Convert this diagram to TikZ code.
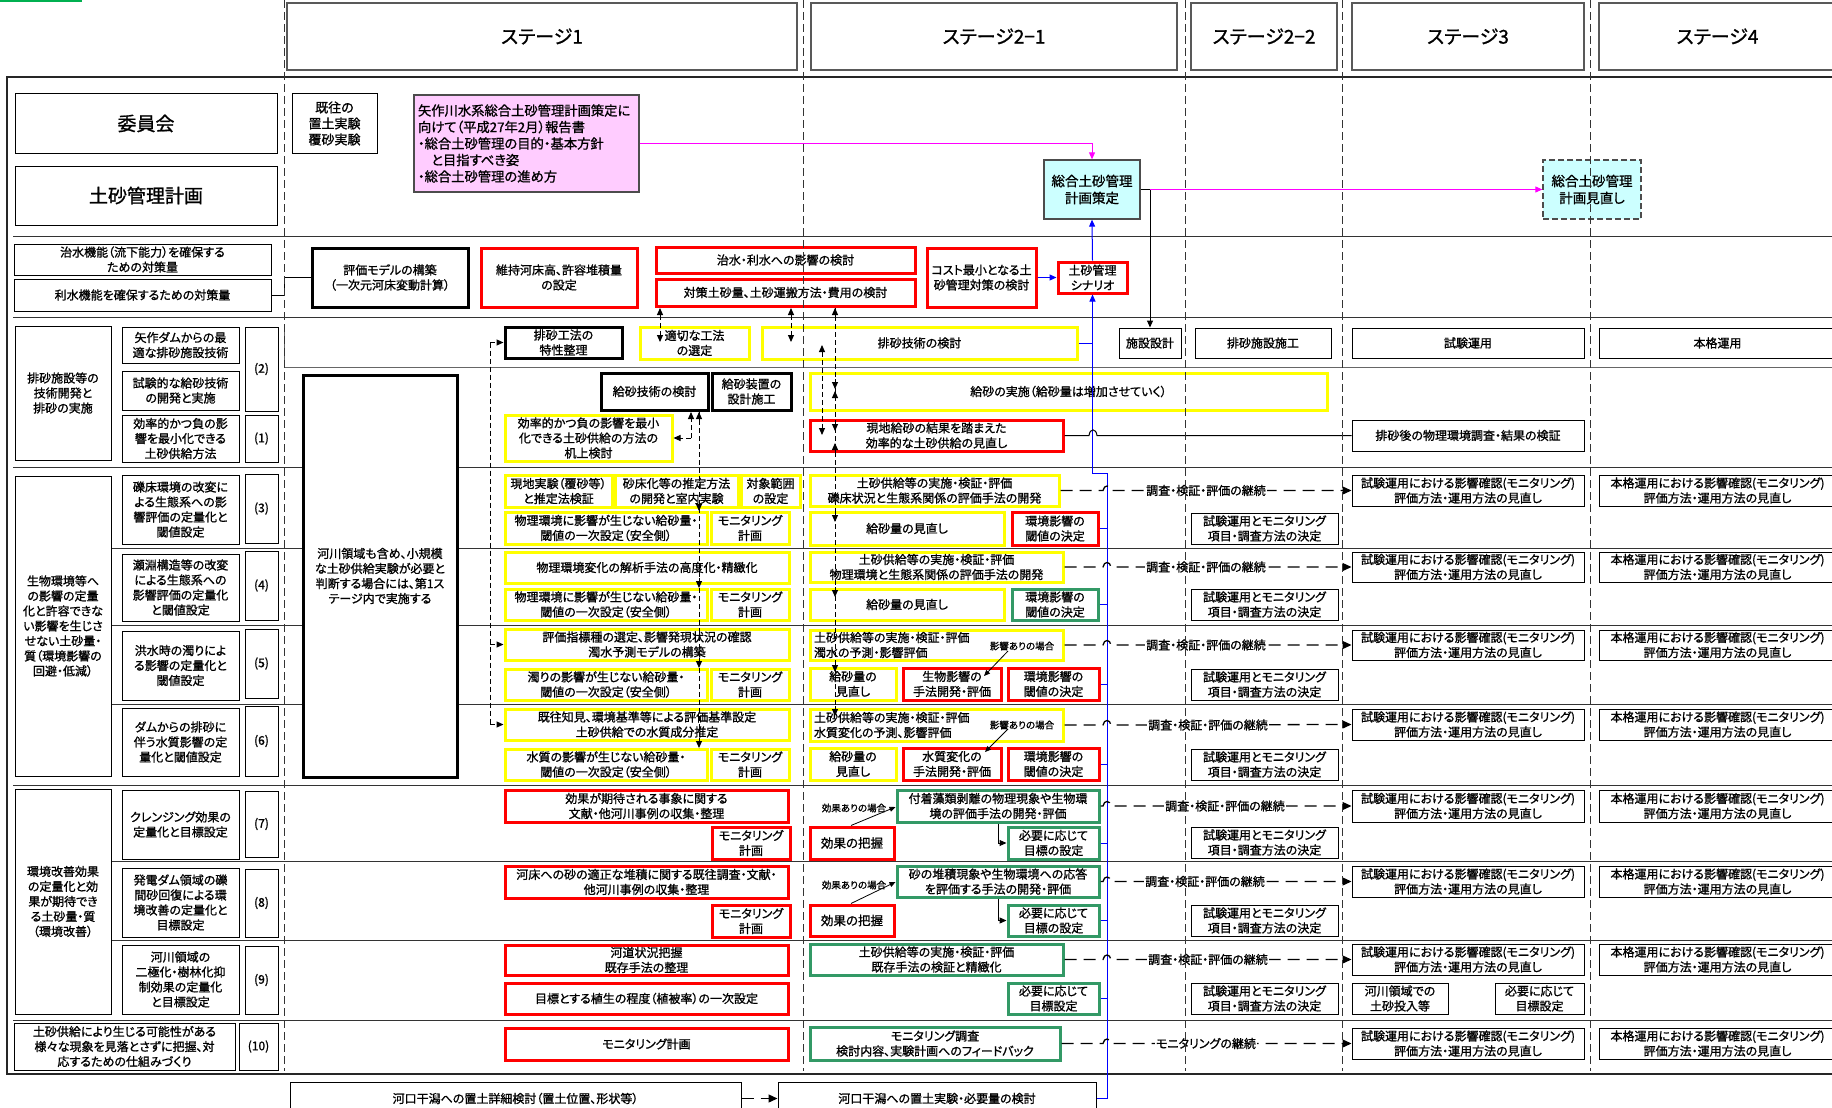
\documentclass[tikz,border=0pt]{standalone}
\usepackage{fontspec}
\setmainfont{Noto Sans CJK JP}[RawFeature={+palt}, FakeBold=1.1]
\usetikzlibrary{arrows.meta}
\definecolor{ylw}{RGB}{255,255,0}
\definecolor{rd}{RGB}{255,0,0}
\definecolor{grn}{RGB}{51,153,102}
\definecolor{pnk}{RGB}{255,204,255}
\definecolor{cyn}{RGB}{204,255,255}
\definecolor{mgt}{RGB}{255,0,255}
\definecolor{blu}{RGB}{0,0,255}
\definecolor{brgreen}{RGB}{0,176,80}
\newcommand\fsz[2]{\fontsize{#1}{#2}\selectfont}
% box from (x1,y1) to (x2,y2), text centred
\newcommand\bx[7]{%
  \pgfmathsetmacro\bxw{#5-#3}\pgfmathsetmacro\bxh{#6-#4}%
  \pgfmathsetmacro\bxcx{(#3+#5)/2}\pgfmathsetmacro\bxcy{(#4+#6)/2}%
  \node[#2, minimum width=\bxw pt, minimum height=\bxh pt] (#1) at (\bxcx,\bxcy) {#7};}
% box with left-aligned text
\newcommand\bxl[7]{%
  \pgfmathsetmacro\bxw{#5-#3-8}\pgfmathsetmacro\bxh{#6-#4}%
  \pgfmathsetmacro\bxcx{(#3+#5)/2}\pgfmathsetmacro\bxcy{(#4+#6)/2}%
  \node[#2, text width=\bxw pt, inner xsep=4pt, align=left, minimum height=\bxh pt] (#1) at (\bxcx,\bxcy) {#7};}
% dashed continuation line hopping over the blue line at x=1107
\newcommand\hopline[4]{\draw[#1] (#2) -- (1103,#4) .. controls (1104,#4-6) and (1110,#4-6) .. (1111,#4) -- (#3);}
\begin{document}
\begin{tikzpicture}[x=1pt,y=-1pt,
  >={Triangle[length=7pt,width=6pt]},
  tbox/.style={draw=black, line width=1pt, align=center, inner sep=1pt, font=\fsz{12}{15}},
  hdr/.style={tbox, draw=black!65, line width=1.4pt, font=\fsz{19}{22}},
  kbox/.style={tbox, line width=3pt},
  ybox/.style={tbox, draw=ylw, line width=3pt},
  rbox/.style={tbox, draw=rd, line width=3pt},
  gbox/.style={tbox, draw=grn, line width=3pt},
  sep/.style={line width=1pt, black!80},
  vdash/.style={line width=1pt, black!80, dash pattern=on 8pt off 4pt},
  dconn/.style={line width=1pt, dash pattern=on 5pt off 3pt},
  cont/.style={line width=1.3pt, dash pattern=on 12pt off 7pt, -{Triangle[length=9pt,width=8pt]}},
  lbl/.style={fill=white, inner sep=1pt, font=\fsz{12}{14}},
  small/.style={inner sep=0pt, font=\fsz{9.5}{11}},
  bl/.style={blu, line width=1pt}]
\useasboundingbox (0,0) rectangle (1832,1108);
\clip (0,0) rectangle (1832,1108);

\fill[brgreen] (0,0) rectangle (82,2.5);

% stage headers
\bx{hS1}{hdr}{287}{3}{797}{70}{ステージ1}
\bx{hS21}{hdr}{811}{3}{1177}{70}{ステージ2−1}
\bx{hS22}{hdr}{1191}{3}{1337}{70}{ステージ2−2}
\bx{hS3}{hdr}{1352}{3}{1584}{70}{ステージ3}
\bx{hS4}{hdr}{1599}{3}{1836}{70}{ステージ4}

% frame and row separators
\draw[line width=1.3pt, black!85] (1840,77) -- (7,77) -- (7,1074) -- (1840,1074);
\foreach \yy/\xs in {236/13, 317/13, 467/13, 548/111, 625/111, 704/111, 785/13, 861/111, 940/111, 1020/13}
  \draw[sep] (\xs,\yy) -- (1840,\yy);
\draw[sep, black!60] (284,328) -- (284,367) -- (1840,367);

% committee / plan
\bx{iin}{tbox, font=\fsz{19}{22}}{15}{94}{277}{153}{委員会}
\bx{plan}{tbox, font=\fsz{19}{22}}{15}{166}{277}{225}{土砂管理計画}
\bx{kiou}{tbox, font=\fsz{13}{16}}{292}{94}{377}{153}{既往の\\置土実験\\覆砂実験}
\bxl{report}{tbox, fill=pnk, draw=black!70, line width=1.2pt, font=\fsz{13.3}{16.5}}{414}{95}{639}{192}{矢作川水系総合土砂管理計画策定に\\向けて（平成27年2月）報告書\\・総合土砂管理の目的・基本方針\\　と目指すべき姿\\・総合土砂管理の進め方}
\bx{sakutei}{tbox, fill=cyn, draw=black!70, line width=1.3pt, font=\fsz{13.5}{17}}{1044}{160}{1140}{219}{総合土砂管理\\計画策定}
\bx{minaoshi}{tbox, fill=cyn, draw=black!70, line width=1.3pt, dash pattern=on 6pt off 3pt, font=\fsz{13.5}{17}}{1543}{160}{1641}{219}{総合土砂管理\\計画見直し}

% countermeasure volume
\bx{chisui}{tbox}{14}{244}{271}{275}{治水機能（流下能力）を確保する\\ための対策量}
\bx{risui}{tbox}{14}{279}{271}{311}{利水機能を確保するための対策量}
\bx{model}{kbox}{312}{248}{468}{307}{評価モデルの構築\\（一次元河床変動計算）}
\bx{iji}{rbox}{481}{248}{637}{307}{維持河床高、許容堆積量\\の設定}
\bx{eikyo}{rbox}{656}{247}{915}{273}{治水・利水への影響の検討}
\bx{taisaku}{rbox}{656}{279}{915}{306}{対策土砂量、土砂運搬方法・費用の検討}
\bx{cost}{rbox}{927}{248}{1036}{307}{コスト最小となる土\\砂管理対策の検討}
\bx{scenario}{rbox}{1058}{262}{1127}{293}{土砂管理\\シナリオ}

% sediment bypass section, left column
\bx{haisaL}{tbox}{15}{326}{111}{460}{排砂施設等の\\技術開発と\\排砂の実施}
\bx{yahagi}{tbox}{122}{327}{239}{363}{矢作ダムからの最\\適な排砂施設技術}
\bx{shiken}{tbox}{122}{371}{239}{410}{試験的な給砂技術\\の開発と実施}
\bx{kouritsu}{tbox}{122}{415}{239}{462}{効率的かつ負の影\\響を最小化できる\\土砂供給方法}
\bx{n2}{tbox}{245}{327}{278}{411}{(2)}
\bx{n1}{tbox}{245}{415}{278}{462}{(1)}

% sediment bypass section, stages
\bx{kouhou}{kbox}{505}{327}{622}{358}{排砂工法の\\特性整理}
\bx{tekisetsu}{ybox}{640}{327}{749}{359}{適切な工法\\の選定}
\bx{haisaGi}{ybox}{762}{327}{1077}{359}{排砂技術の検討}
\bx{shisetsu}{tbox}{1119}{328}{1181}{358}{施設設計}
\bx{sekou}{tbox}{1195}{328}{1331}{358}{排砂施設施工}
\bx{shikenU}{tbox}{1352}{328}{1584}{358}{試験運用}
\bx{honkaku}{tbox}{1599}{328}{1836}{358}{本格運用}
\bx{kyusaGi}{kbox}{601}{373}{708}{410}{給砂技術の検討}
\bx{kyusaSo}{kbox}{712}{373}{791}{410}{給砂装置の\\設計施工}
\bx{kyusaJi}{ybox}{810}{373}{1327}{410}{給砂の実施（給砂量は増加させていく）}
\bx{kijou}{ybox}{505}{415}{672}{461}{効率的かつ負の影響を最小\\化できる土砂供給の方法の\\机上検討}
\bx{genchi}{rbox}{810}{420}{1063}{451}{現地給砂の結果を踏まえた\\効率的な土砂供給の見直し}
\bx{haisago}{tbox}{1352}{420}{1584}{451}{排砂後の物理環境調査・結果の検証}
\bx{kasen}{kbox, fill=white}{303}{375}{457}{777}{河川領域も含め、小規模\\な土砂供給実験が必要と\\判断する場合には、第1ス\\テージ内で実施する}

% biological environment section, left column
\bx{seibutsuL}{tbox}{15}{476}{111}{776}{生物環境等へ\\の影響の定量\\化と許容できな\\い影響を生じさ\\せない土砂量・\\質（環境影響の\\回避・低減）}
\bx{r3}{tbox}{122}{475}{239}{544}{礫床環境の改変に\\よる生態系への影\\響評価の定量化と\\閾値設定}
\bx{n3}{tbox}{245}{474}{278}{543}{(3)}
\bx{r4}{tbox}{122}{554}{239}{621}{瀬淵構造等の改変\\による生態系への\\影響評価の定量化\\と閾値設定}
\bx{n4}{tbox}{245}{551}{278}{620}{(4)}
\bx{r5}{tbox}{122}{631}{239}{700}{洪水時の濁りによ\\る影響の定量化と\\閾値設定}
\bx{n5}{tbox}{245}{629}{278}{698}{(5)}
\bx{r6}{tbox}{122}{708}{239}{776}{ダムからの排砂に\\伴う水質影響の定\\量化と閾値設定}
\bx{n6}{tbox}{245}{706}{278}{776}{(6)}

% biological environment section, stage 1
\bx{p3a}{ybox}{505}{475}{612}{507}{現地実験（覆砂等）\\と推定法検証}
\bx{p3b}{ybox}{615}{475}{738}{507}{砂床化等の推定方法\\の開発と室内実験}
\bx{p3c}{ybox}{741}{475}{800}{507}{対象範囲\\の設定}
\bx{p3d}{ybox}{505}{512}{707}{544}{物理環境に影響が生じない給砂量・\\閾値の一次設定（安全側）}
\bx{p3e}{ybox}{711}{512}{789}{544}{モニタリング\\計画}
\bx{p4a}{ybox}{505}{552}{789}{583}{物理環境変化の解析手法の高度化・精緻化}
\bx{p4d}{ybox}{505}{589}{707}{620}{物理環境に影響が生じない給砂量・\\閾値の一次設定（安全側）}
\bx{p4e}{ybox}{711}{589}{789}{620}{モニタリング\\計画}
\bx{p5a}{ybox}{505}{629}{789}{660}{評価指標種の選定、影響発現状況の確認\\濁水予測モデルの構築}
\bx{p5d}{ybox}{505}{669}{707}{700}{濁りの影響が生じない給砂量・\\閾値の一次設定（安全側）}
\bx{p5e}{ybox}{711}{669}{789}{700}{モニタリング\\計画}
\bx{p6a}{ybox}{505}{709}{789}{740}{既往知見、環境基準等による評価基準設定\\土砂供給での水質成分推定}
\bx{p6d}{ybox}{505}{749}{707}{780}{水質の影響が生じない給砂量・\\閾値の一次設定（安全側）}
\bx{p6e}{ybox}{711}{749}{789}{780}{モニタリング\\計画}

% biological environment section, stages 2-4
\bx{s3a}{ybox}{810}{475}{1059}{506}{土砂供給等の実施・検証・評価\\礫床状況と生態系関係の評価手法の開発}
\bx{s3b}{ybox}{810}{512}{1004}{545}{給砂量の見直し}
\bx{s3c}{rbox}{1012}{512}{1098}{545}{環境影響の\\閾値の決定}
\bx{s3d}{tbox}{1191}{513}{1338}{544}{試験運用とモニタリング\\項目・調査方法の決定}
\bx{s3e}{tbox}{1352}{475}{1584}{506}{試験運用における影響確認(モニタリング)\\評価方法・運用方法の見直し}
\bx{s3f}{tbox}{1599}{475}{1836}{506}{本格運用における影響確認(モニタリング)\\評価方法・運用方法の見直し}

\bx{s4a}{ybox}{810}{552}{1063}{582}{土砂供給等の実施・検証・評価\\物理環境と生態系関係の評価手法の開発}
\bx{s4b}{ybox}{810}{589}{1004}{620}{給砂量の見直し}
\bx{s4c}{gbox}{1012}{589}{1098}{620}{環境影響の\\閾値の決定}
\bx{s4d}{tbox}{1191}{589}{1338}{620}{試験運用とモニタリング\\項目・調査方法の決定}
\bx{s4e}{tbox}{1352}{552}{1584}{582}{試験運用における影響確認(モニタリング)\\評価方法・運用方法の見直し}
\bx{s4f}{tbox}{1599}{552}{1836}{582}{本格運用における影響確認(モニタリング)\\評価方法・運用方法の見直し}

\bxl{s5a}{ybox}{810}{630}{1063}{660}{土砂供給等の実施・検証・評価\\濁水の予測・影響評価}
\bx{s5b}{ybox}{810}{668}{896}{700}{給砂量の\\見直し}
\bx{s5x}{rbox}{903}{668}{1001}{700}{生物影響の\\手法開発・評価}
\bx{s5c}{rbox}{1008}{668}{1099}{700}{環境影響の\\閾値の決定}
\bx{s5d}{tbox}{1191}{669}{1338}{700}{試験運用とモニタリング\\項目・調査方法の決定}
\bx{s5e}{tbox}{1352}{630}{1584}{660}{試験運用における影響確認(モニタリング)\\評価方法・運用方法の見直し}
\bx{s5f}{tbox}{1599}{630}{1836}{660}{本格運用における影響確認(モニタリング)\\評価方法・運用方法の見直し}
\node[small] (lab5) at (1022,646) {影響ありの場合};

\bxl{s6a}{ybox}{810}{709}{1063}{741}{土砂供給等の実施・検証・評価\\水質変化の予測、影響評価}
\bx{s6b}{ybox}{810}{748}{896}{780}{給砂量の\\見直し}
\bx{s6x}{rbox}{903}{748}{1001}{780}{水質変化の\\手法開発・評価}
\bx{s6c}{rbox}{1008}{748}{1099}{780}{環境影響の\\閾値の決定}
\bx{s6d}{tbox}{1191}{749}{1338}{780}{試験運用とモニタリング\\項目・調査方法の決定}
\bx{s6e}{tbox}{1352}{709}{1584}{740}{試験運用における影響確認(モニタリング)\\評価方法・運用方法の見直し}
\bx{s6f}{tbox}{1599}{709}{1836}{740}{本格運用における影響確認(モニタリング)\\評価方法・運用方法の見直し}
\node[small] (lab6) at (1022,725) {影響ありの場合};

% environmental improvement section, left column
\bx{kankyoL}{tbox}{15}{789}{111}{1014}{環境改善効果\\の定量化と効\\果が期待でき\\る土砂量・質\\（環境改善）}
\bx{r7}{tbox}{122}{790}{239}{859}{クレンジング効果の\\定量化と目標設定}
\bx{n7}{tbox}{245}{791}{278}{857}{(7)}
\bx{r8}{tbox}{122}{868}{239}{937}{発電ダム領域の礫\\間砂回復による環\\境改善の定量化と\\目標設定}
\bx{n8}{tbox}{245}{869}{278}{937}{(8)}
\bx{r9}{tbox}{122}{945}{239}{1014}{河川領域の\\二極化・樹林化抑\\制効果の定量化\\と目標設定}
\bx{n9}{tbox}{245}{946}{278}{1014}{(9)}
\bx{r10}{tbox}{14}{1023}{235}{1070}{土砂供給により生じる可能性がある\\様々な現象を見落とさずに把握、対\\応するための仕組みづくり}
\bx{n10}{tbox}{239}{1023}{278}{1070}{(10)}

% environmental improvement section, stage 1
\bx{p7a}{rbox}{505}{790}{788}{822}{効果が期待される事象に関する\\文献・他河川事例の収集・整理}
\bx{p7e}{rbox}{712}{827}{790}{859}{モニタリング\\計画}
\bx{p8a}{rbox}{505}{866}{788}{898}{河床への砂の適正な堆積に関する既往調査・文献・\\他河川事例の収集・整理}
\bx{p8e}{rbox}{712}{905}{790}{937}{モニタリング\\計画}
\bx{p9a}{rbox}{505}{945}{788}{975}{河道状況把握\\既存手法の整理}
\bx{p9b}{rbox}{505}{983}{788}{1014}{目標とする植生の程度（植被率）の一次設定}
\bx{p10}{rbox}{505}{1028}{788}{1060}{モニタリング計画}

% environmental improvement section, stages 2-4
\bx{q7a}{gbox}{897}{790}{1099}{822}{付着藻類剥離の物理現象や生物環\\境の評価手法の開発・評価}
\bx{q7b}{rbox, font=\fsz{12.5}{15}}{810}{827}{894}{859}{効果の把握}
\bx{q7c}{gbox}{1008}{827}{1099}{859}{必要に応じて\\目標の設定}
\bx{q7d}{tbox}{1191}{827}{1338}{858}{試験運用とモニタリング\\項目・調査方法の決定}
\bx{q7e}{tbox}{1352}{790}{1584}{822}{試験運用における影響確認(モニタリング)\\評価方法・運用方法の見直し}
\bx{q7f}{tbox}{1599}{790}{1836}{822}{本格運用における影響確認(モニタリング)\\評価方法・運用方法の見直し}
\node[small] (lab7) at (854,808) {効果ありの場合};

\bx{q8a}{gbox}{897}{866}{1099}{897}{砂の堆積現象や生物環境への応答\\を評価する手法の開発・評価}
\bx{q8b}{rbox, font=\fsz{12.5}{15}}{810}{905}{894}{936}{効果の把握}
\bx{q8c}{gbox}{1008}{905}{1099}{936}{必要に応じて\\目標の設定}
\bx{q8d}{tbox}{1191}{905}{1338}{936}{試験運用とモニタリング\\項目・調査方法の決定}
\bx{q8e}{tbox}{1352}{866}{1584}{897}{試験運用における影響確認(モニタリング)\\評価方法・運用方法の見直し}
\bx{q8f}{tbox}{1599}{866}{1836}{897}{本格運用における影響確認(モニタリング)\\評価方法・運用方法の見直し}
\node[small] (lab8) at (854,885) {効果ありの場合};

\bx{q9a}{gbox}{810}{944}{1063}{975}{土砂供給等の実施・検証・評価\\既存手法の検証と精緻化}
\bx{q9c}{gbox}{1008}{983}{1099}{1014}{必要に応じて\\目標設定}
\bx{q9d}{tbox}{1191}{983}{1338}{1014}{試験運用とモニタリング\\項目・調査方法の決定}
\bx{q9e}{tbox}{1352}{944}{1584}{975}{試験運用における影響確認(モニタリング)\\評価方法・運用方法の見直し}
\bx{q9f}{tbox}{1599}{944}{1836}{975}{本格運用における影響確認(モニタリング)\\評価方法・運用方法の見直し}
\bx{q9g}{tbox}{1352}{983}{1448}{1014}{河川領域での\\土砂投入等}
\bx{q9h}{tbox}{1495}{983}{1584}{1014}{必要に応じて\\目標設定}

\bx{q10a}{gbox}{810}{1027}{1060}{1060}{モニタリング調査\\検討内容、実験計画へのフィードバック}
\bx{q10e}{tbox}{1352}{1028}{1584}{1059}{試験運用における影響確認(モニタリング)\\評価方法・運用方法の見直し}
\bx{q10f}{tbox}{1599}{1028}{1836}{1059}{本格運用における影響確認(モニタリング)\\評価方法・運用方法の見直し}

% estuary tidal flat
\bx{b1}{tbox}{290}{1082}{741}{1115}{河口干潟への置土詳細検討（置土位置、形状等）}
\bx{b2}{tbox}{778}{1082}{1096}{1115}{河口干潟への置土実験・必要量の検討}

% ---------- connectors ----------
\draw[line width=1pt] (risui.east) -- (284,295) |- (model.west);
\draw[mgt, line width=1pt, ->] (report.east) -| (sakutei.north);
\draw[line width=1pt, ->] (sakutei.east) -| (shisetsu.north);
\draw[mgt, line width=1pt, ->] (sakutei.east -| shisetsu.north) -- (minaoshi.west);

% blue feedback line to the scenario
\draw[bl, ->] (cost.east) -- (scenario.west);
\draw[bl, ->] (scenario.north) -- (sakutei.south);
\draw[bl, ->] (b2.east) -- (1107,1098.5) -- (1107,473) -- (scenario.south |- 0,473) -- (scenario.south);
\draw[bl] (haisaGi.east) -- (scenario.south |- haisaGi.east);
\foreach \n in {s3c,s4c,s5c,s6c,q7c,q8c,q9c}
  \draw[bl] (\n.east) -- (1107,0 |- \n.east);

% black line hopping over the blue line
\draw[line width=1pt] (genchi.east) -- (1089,435.5) .. controls (1090,428) and (1096,428) .. (1097,435.5) -- (haisago.west);

% continuation arrows towards stage 3
\hopline{cont}{s3a.east}{s3e.west}{490.5}
\hopline{cont}{s4a.east}{s4e.west}{567}
\hopline{cont}{s5a.east}{s5e.west}{645}
\hopline{cont}{s6a.east}{s6e.west}{725}
\hopline{cont}{q7a.east}{q7e.west}{806}
\hopline{cont}{q8a.east}{q8e.west}{881.5}
\hopline{cont}{q9a.east}{q9e.west}{959.5}
\hopline{cont}{q10a.east}{q10e.west}{1043.5}
\node[lbl] (c3) at (1206,490.5) {調査・検証・評価の継続};
\node[lbl] (c4) at (1206,567) {調査・検証・評価の継続};
\node[lbl] (c5) at (1206,645) {調査・検証・評価の継続};
\node[lbl] (c6) at (1208,725) {調査・検証・評価の継続};
\node[lbl] (c7) at (1225,806) {調査・検証・評価の継続};
\node[lbl] (c8) at (1205,881.5) {調査・検証・評価の継続};
\node[lbl] (c9) at (1208,959.5) {調査・検証・評価の継続};
\node[lbl] (c10) at (1206,1043.5) {モニタリングの継続};

% stage 1 dashed links
\draw[dconn] (490,342.5) -- (490,724.5);
\draw[dconn, ->] (490,342.5) -- (kouhou.west);
\draw[dconn, ->] (490,644.5) -- (p5a.west);
\draw[dconn, ->] (490,724.5) -- (p6a.west);
\draw[dconn, ->] (691,438) -- (kijou.east);
\draw[dconn, ->] (691,438) -- (691,412);
\draw[dconn] (699,412) -- (699,748);
\draw[line width=1pt, ->] (699,424) -- (699,412);
\foreach \yy in {511,588,668,748} \draw[line width=1pt, ->] (699,\yy-10) -- (699,\yy);
\draw[dconn, <->] (660,308) -- (660,342);
\draw[dconn, <->] (791,308) -- (791,342);
\draw[dconn, <->] (822,345) -- (822,435);
\draw[dconn] (835,308) -- (835,716);
\draw[line width=1pt, ->] (835,320) -- (835,308);
\foreach \yy in {389,431,522,597,672,716} \draw[line width=1pt, ->] (835,\yy-10) -- (835,\yy);
\foreach \yy in {391,443} \draw[line width=1pt, ->] (835,\yy+10) -- (835,\yy);

% stage 2-1 small links
\draw[line width=0.8pt, -{Triangle[length=6pt,width=5pt]}] (1008,651) -- (984,676);
\draw[line width=0.8pt, -{Triangle[length=6pt,width=5pt]}] (1008,729) -- (985,752);
\draw[line width=0.8pt, -{Triangle[length=6pt,width=5pt]}] (q7b.north -| 851,0) -- (q7a.west |- 0,807);
\draw[line width=0.8pt, -{Triangle[length=6pt,width=5pt]}] (q8b.north -| 851,0) -- (q8a.west |- 0,882);
\draw[line width=1pt, ->] (998,0 |- q7a.south) |- (q7c.west);
\draw[line width=1pt, ->] (998,0 |- q8a.south) |- (q8c.west);

\draw[line width=1.3pt, dash pattern=on 12pt off 7pt, -{Triangle[length=9pt,width=8pt]}] (b1.east) -- (b2.west);

% stage boundaries
\foreach \xx in {284,803,1185,1342,1590}
  \draw[vdash] (\xx,0) -- (\xx,1071);
\end{tikzpicture}
\end{document}
